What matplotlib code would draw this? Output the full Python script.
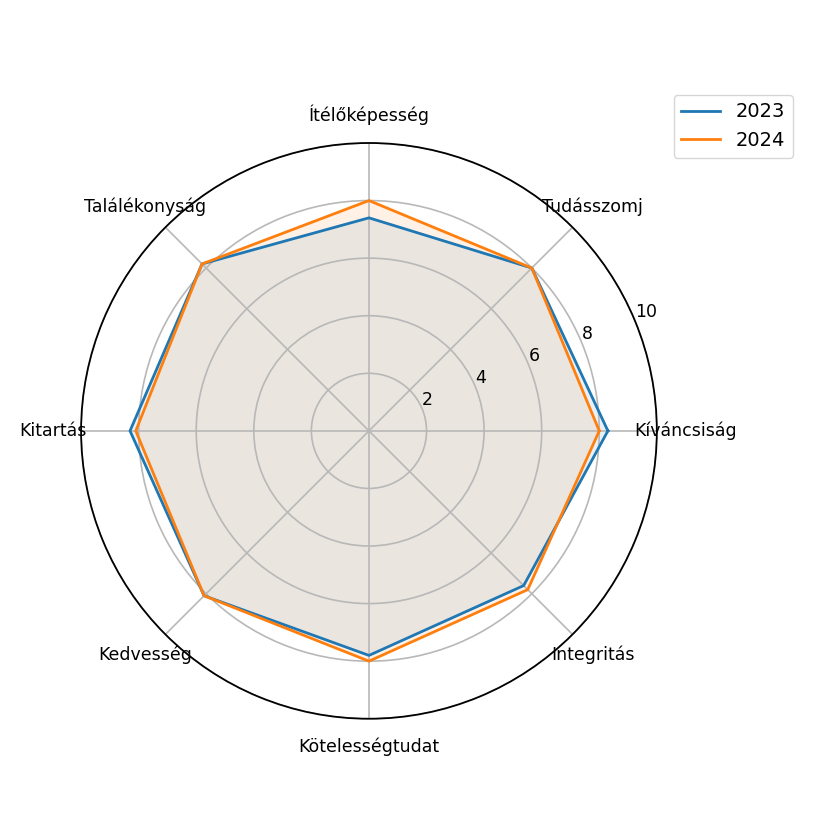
import numpy as np
import matplotlib
matplotlib.use('Agg')
import matplotlib.pyplot as plt

categories = ['Kíváncsiság', 'Tudásszomj', 'Ítélőképesség', 'Találékonyság',
              'Kitartás', 'Kedvesség', 'Kötelességtudat', 'Integritás']
values_2023 = [8.3, 8.0, 7.4, 8.2, 8.3, 8.1, 7.8, 7.6]
values_2024 = [8.0, 8.0, 8.0, 8.2, 8.1, 8.1, 8.0, 7.8]
series = {'2023': values_2023, '2024': values_2024}

angles = np.linspace(0, 2 * np.pi, len(categories), endpoint=False).tolist()
angles += angles[:1]

fig = plt.figure(figsize=(8.19, 8.33), dpi=100)
ax = fig.add_axes([0.099, 0.137, 0.703, 0.6915], polar=True)

for name, vals in series.items():
    v = vals + vals[:1]
    line, = ax.plot(angles, v, linewidth=2, label=name)
    ax.fill(angles, v, color=line.get_color(), alpha=0.1)

ax.set_xticks(angles[:-1])
ax.set_xticklabels(categories, fontsize=12.5)
ax.set_ylim(0, 10)
ax.set_yticks([2, 4, 6, 8, 10])
ax.set_yticklabels(['2', '4', '6', '8', '10'], fontsize=12.5)
ax.tick_params(axis='x', pad=10)
ax.grid(linewidth=1.2, color='#b8b8b8')
ax.spines['polar'].set_linewidth(1.3)

fig.legend(loc='upper right', bbox_to_anchor=(0.98, 0.898), fontsize=14)

fig.savefig('out.png', dpi=100)
